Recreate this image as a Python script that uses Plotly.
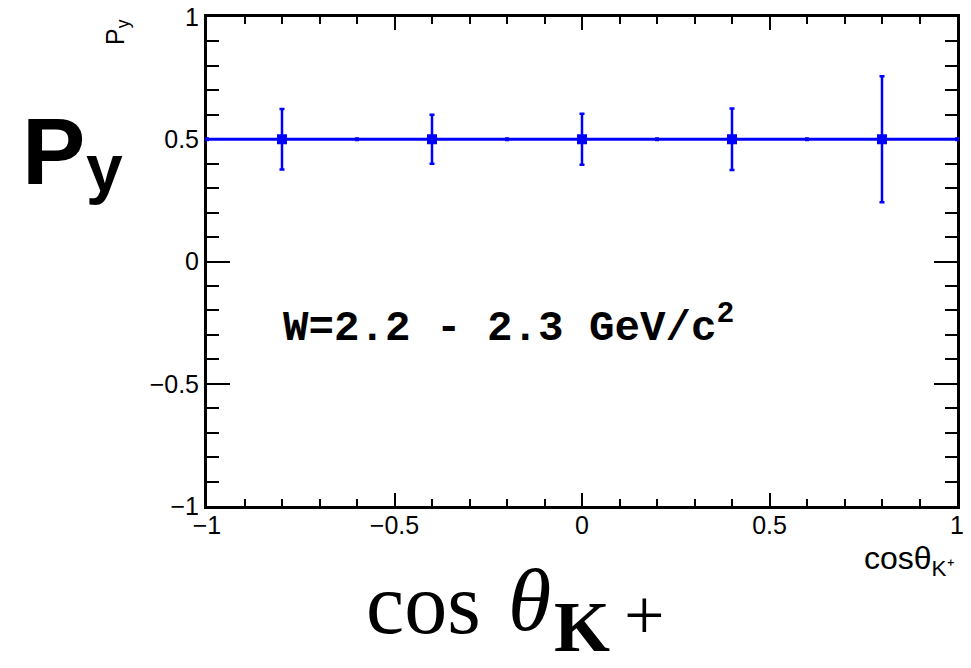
import plotly.graph_objects as go

# ---- data ----
cos_theta = [-0.8, -0.4, 0.0, 0.4, 0.8]
py_values = [0.5, 0.5, 0.5, 0.5, 0.5]
py_errors = [0.124, 0.100, 0.104, 0.126, 0.258]
line_x = [-1.0, -0.6, -0.2, 0.2, 0.6, 1.0]
line_y = [0.5, 0.5, 0.5, 0.5, 0.5, 0.5]
tick_vals = [-1, -0.5, 0, 0.5, 1]

W, H = 971, 668
L, R, T, B = 207, 957, 17, 506


def px(x):
    return (x - L) / (R - L)


def py(y):
    return (B - y) / (B - T)


BLUE = "#0000ff"
fig = go.Figure()
fig.add_trace(go.Scatter(
    x=line_x, y=line_y, mode="lines+markers",
    line=dict(color=BLUE, width=3),
    marker=dict(symbol="square", size=4, color=BLUE),
    showlegend=False, cliponaxis=False,
))
fig.add_trace(go.Scatter(
    x=cos_theta, y=py_values, mode="markers",
    marker=dict(symbol="square", size=10, color=BLUE),
    error_y=dict(type="data", array=py_errors, visible=True,
                 color=BLUE, thickness=2.5, width=2.5),
    showlegend=False, cliponaxis=False,
))

axis_common = dict(
    range=[-1, 1], tickvals=tick_vals, showgrid=False, zeroline=False,
    showline=True, linecolor="black", linewidth=3, mirror="ticks",
    ticks="inside", tickwidth=2, tickcolor="black", automargin=False,
    layer="below traces",
    tickfont=dict(family="Liberation Sans, Arial", size=25, color="black"),
)
fig.update_xaxes(**axis_common, ticklen=13, ticklabelstandoff=-5,
                 minor=dict(dtick=0.1, tick0=-1, ticklen=7, tickwidth=2,
                            ticks="inside", tickcolor="black", showgrid=False))
fig.update_yaxes(**axis_common, ticklen=23,
                 minor=dict(dtick=0.1, tick0=-1, ticklen=12, tickwidth=2,
                            ticks="inside", tickcolor="black", showgrid=False))

ann = []
sans = "Liberation Sans, Arial"
serif = "Liberation Serif, Times New Roman"
# small rotated y title
ann.append(dict(text="P<sub>y</sub>", x=px(117), y=py(32), textangle=-90,
                xanchor="center", yanchor="middle",
                font=dict(family=sans, size=25, color="black")))
# big P_y
ann.append(dict(text="<b>P</b>", x=px(20), y=py(151), xanchor="left", yanchor="middle",
                font=dict(family=sans, size=95, color="black")))
ann.append(dict(text="<b>y</b>", x=px(84), y=py(168), xanchor="left", yanchor="middle",
                font=dict(family=sans, size=66, color="black")))
# W label
ann.append(dict(text="<b>W=2.2 - 2.3 GeV/c<sup>2</sup></b>", x=px(281), y=py(325),
                xanchor="left", yanchor="middle",
                font=dict(family="Liberation Mono, Courier New", size=42.5, color="black")))
# small x title
ann.append(dict(text="cosθ<sub>K⁺</sub>", x=px(957), y=py(538), xanchor="right", yanchor="top",
                font=dict(family=sans, size=32, color="black")))
# big LaTeX-like x title
ann.append(dict(text="cos", x=px(364), y=py(604), xanchor="left", yanchor="middle",
                font=dict(family=serif, size=86, color="black")))
ann.append(dict(text="<i>θ</i>", x=px(506), y=py(600), xanchor="left", yanchor="middle",
                font=dict(family=serif, size=88, color="black")))
ann.append(dict(text="<b>K</b>", x=px(552), y=py(627), xanchor="left", yanchor="middle",
                font=dict(family=serif, size=72, color="black")))
ann.append(dict(text="+", x=px(622), y=py(615), xanchor="left", yanchor="middle",
                font=dict(family=serif, size=72, color="black")))
for a in ann:
    a.update(xref="paper", yref="paper", showarrow=False)

fig.update_layout(
    width=W, height=H,
    margin=dict(l=L, r=W - R, t=T, b=H - B, pad=0, autoexpand=False),
    plot_bgcolor="white", paper_bgcolor="white",
    annotations=ann,
)
fig.write_html("out.html", config={"displayModeBar": False},
               post_script="document.body.style.margin='0';")
